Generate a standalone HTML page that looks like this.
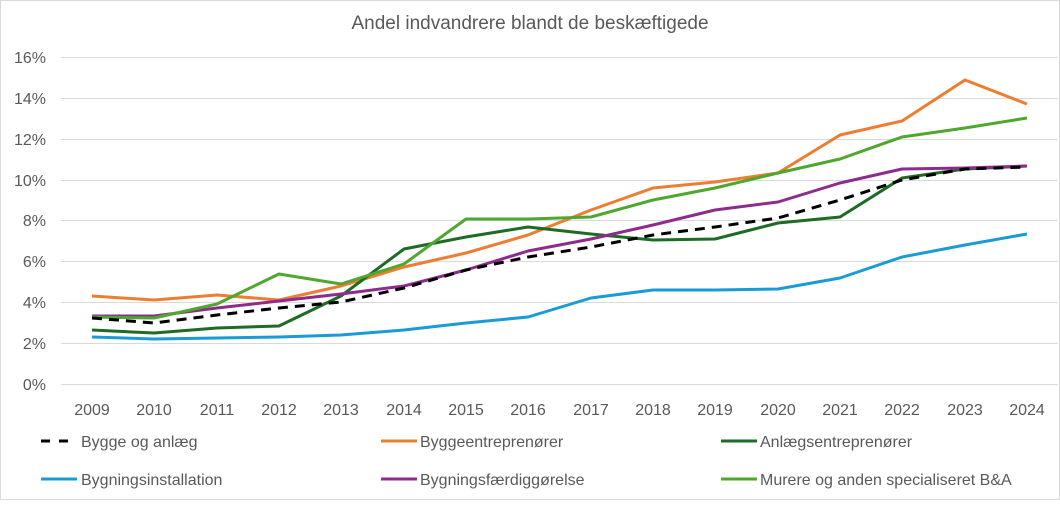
<!DOCTYPE html>
<html><head><meta charset="utf-8"><style>
html,body{margin:0;padding:0;background:#fff;}
svg text{font-family:"Liberation Sans",sans-serif;fill:#595959;}
</style></head><body>
<svg width="1060" height="500" xmlns="http://www.w3.org/2000/svg">
<rect x="0.5" y="0.5" width="1059" height="499" fill="#fff" stroke="#d9d9d9"/>
<text x="530" y="29" font-size="19" text-anchor="middle">Andel indvandrere blandt de beskæftigede</text>
<g stroke="#d9d9d9" stroke-width="1">
<line x1="61" x2="1058" y1="57.5" y2="57.5"/><line x1="61" x2="1058" y1="98.5" y2="98.5"/>
<line x1="61" x2="1058" y1="139.5" y2="139.5"/><line x1="61" x2="1058" y1="180.5" y2="180.5"/>
<line x1="61" x2="1058" y1="220.5" y2="220.5"/><line x1="61" x2="1058" y1="261.5" y2="261.5"/>
<line x1="61" x2="1058" y1="302.5" y2="302.5"/><line x1="61" x2="1058" y1="343.5" y2="343.5"/>
<line x1="61" x2="1058" y1="384.5" y2="384.5"/>
</g>
<g font-size="16" text-anchor="end">
<text x="46" y="63">16%</text><text x="46" y="104">14%</text><text x="46" y="145">12%</text>
<text x="46" y="186">10%</text><text x="46" y="226">8%</text><text x="46" y="267">6%</text>
<text x="46" y="308">4%</text><text x="46" y="349">2%</text><text x="46" y="390">0%</text>
</g>
<g font-size="16" text-anchor="middle">
<text x="92" y="415">2009</text><text x="154" y="415">2010</text><text x="217" y="415">2011</text><text x="279" y="415">2012</text>
<text x="341" y="415">2013</text><text x="404" y="415">2014</text><text x="466" y="415">2015</text><text x="528" y="415">2016</text>
<text x="591" y="415">2017</text><text x="653" y="415">2018</text><text x="715" y="415">2019</text><text x="778" y="415">2020</text>
<text x="840" y="415">2021</text><text x="902" y="415">2022</text><text x="965" y="415">2023</text><text x="1027" y="415">2024</text>
</g>
<g fill="none" stroke-width="3" stroke-linejoin="round">
<polyline stroke="#1A9BD7" points="92,337 154,339 217,338 279,337 341,335 404,330 466,323 528,317 591,298 653,290 715,290 778,289 840,278 902,257 965,245 1027,234"/>
<polyline stroke="#ED7D31" points="92,296 154,300 217,295 279,300 341,286 404,267 466,253 528,235 591,210 653,188 715,182 778,173 840,135 902,121 965,80 1027,104"/>
<polyline stroke="#1E6B24" points="92,330 154,333 217,328 279,326 341,296 404,249 466,237 528,227 591,234 653,240 715,239 778,223 840,217 902,178 965,169 1027,166"/>
<polyline stroke="#8E2C8E" points="92,316 154,316 217,308 279,301 341,294 404,286 466,270 528,251 591,239 653,225 715,210 778,202 840,183 902,169 965,168 1027,166"/>
<polyline stroke="#4EA72E" points="92,317 154,318 217,304 279,274 341,284 404,264 466,219 528,219 591,217 653,200 715,188 778,173 840,159 902,137 965,128 1027,118"/>
<polyline stroke="#000" stroke-dasharray="10,7" points="92,318 154,323 217,315 279,308 341,302 404,288 466,270 528,257 591,247 653,235 715,227 778,218 840,200 902,180 965,169 1027,167"/>
</g>
<g stroke-width="3">
<line x1="41" x2="77" y1="441" y2="441" stroke="#000" stroke-dasharray="9,9"/>
<line x1="381" x2="417" y1="441" y2="441" stroke="#ED7D31"/>
<line x1="721" x2="757" y1="441" y2="441" stroke="#1E6B24"/>
<line x1="41" x2="77" y1="479" y2="479" stroke="#1A9BD7"/>
<line x1="381" x2="417" y1="479" y2="479" stroke="#8E2C8E"/>
<line x1="721" x2="757" y1="479" y2="479" stroke="#4EA72E"/>
</g>
<g font-size="16">
<text x="81" y="447">Bygge og anlæg</text>
<text x="420" y="447">Byggeentreprenører</text>
<text x="760" y="447">Anlægsentreprenører</text>
<text x="81" y="485">Bygningsinstallation</text>
<text x="420" y="485">Bygningsfærdiggørelse</text>
<text x="760" y="485">Murere og anden specialiseret B&amp;A</text>
</g>
</svg>
</body></html>
